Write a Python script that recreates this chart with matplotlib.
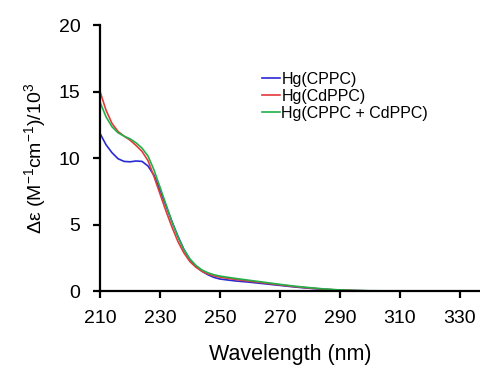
import matplotlib
matplotlib.use("Agg")
import matplotlib.pyplot as plt

plt.rcParams['font.family'] = ['Liberation Sans', 'DejaVu Sans']
plt.rcParams['mathtext.fontset'] = 'custom'
plt.rcParams['mathtext.rm'] = 'Liberation Sans'
plt.rcParams['mathtext.it'] = 'Liberation Sans:italic'

wavelength = [210, 212, 214, 216, 218, 220, 222, 224, 226, 228, 230, 232, 234, 236, 238, 240,
              242, 244, 246, 248, 250, 255, 260, 265, 270, 275, 280, 285, 290, 295, 300, 310, 320, 340]
hg_cppc = [11.85, 11.0, 10.4, 9.95, 9.75, 9.72, 9.78, 9.75, 9.4, 8.7, 7.6, 6.4, 5.2, 4.1, 3.1, 2.35,
           1.85, 1.48, 1.22, 1.02, 0.9, 0.76, 0.66, 0.54, 0.42, 0.3, 0.2, 0.12, 0.06, 0.03, 0.01, 0.0, 0.0, 0.0]
hg_cdppc = [15.0, 13.6, 12.6, 12.0, 11.65, 11.35, 10.95, 10.5, 9.8, 8.6, 7.3, 6.0, 4.8, 3.7, 2.85, 2.2,
            1.78, 1.48, 1.28, 1.14, 1.04, 0.87, 0.74, 0.6, 0.46, 0.33, 0.22, 0.13, 0.07, 0.03, 0.01, 0.0, 0.0, 0.0]
hg_mix = [14.2, 13.1, 12.35, 11.9, 11.65, 11.45, 11.15, 10.75, 10.15, 9.1, 7.8, 6.5, 5.2, 4.05, 3.1, 2.4,
          1.92, 1.58, 1.37, 1.22, 1.12, 0.95, 0.8, 0.65, 0.5, 0.36, 0.25, 0.15, 0.08, 0.04, 0.02, 0.005, 0.0, 0.0]

series = [("Hg(CPPC)", hg_cppc, "#2a2ad4"),
          ("Hg(CdPPC)", hg_cdppc, "#e23a3a"),
          ("Hg(CPPC + CdPPC)", hg_mix, "#22b04a")]

fig = plt.figure(figsize=(4.81, 3.70), dpi=100)
ax = fig.add_axes([0.208, 0.2135, 0.792, 0.7185])
for label, vals, color in series:
    ax.plot(wavelength, vals, color=color, lw=1.2, label=label)

ax.set_xlim(210, 337)
ax.set_ylim(0, 20)
ax.set_xticks([210, 230, 250, 270, 290, 310, 330])
ax.set_yticks([0, 5, 10, 15, 20])
for s in ['top', 'right']:
    ax.spines[s].set_visible(False)
for s in ['left', 'bottom']:
    ax.spines[s].set_linewidth(1.6)
ax.tick_params(axis='both', direction='out', length=5, width=1.6, labelsize=14, colors='black')
ax.tick_params(axis='x', pad=9)
ax.tick_params(axis='y', pad=9)

ax.set_xlabel("Wavelength (nm)", fontsize=15.5, labelpad=12)
ax.set_ylabel(r"Δε (M$^{\mathregular{-1}}$cm$^{\mathregular{-1}}$)/10$^{\mathregular{3}}$", fontsize=14, labelpad=8)

leg = ax.legend(loc='upper left', bbox_to_anchor=(0.405, 0.855), frameon=False, fontsize=11.5,
                handlelength=1.1, handletextpad=0.1, labelspacing=0.12, borderpad=0)

fig.savefig("out.png", dpi=100)
